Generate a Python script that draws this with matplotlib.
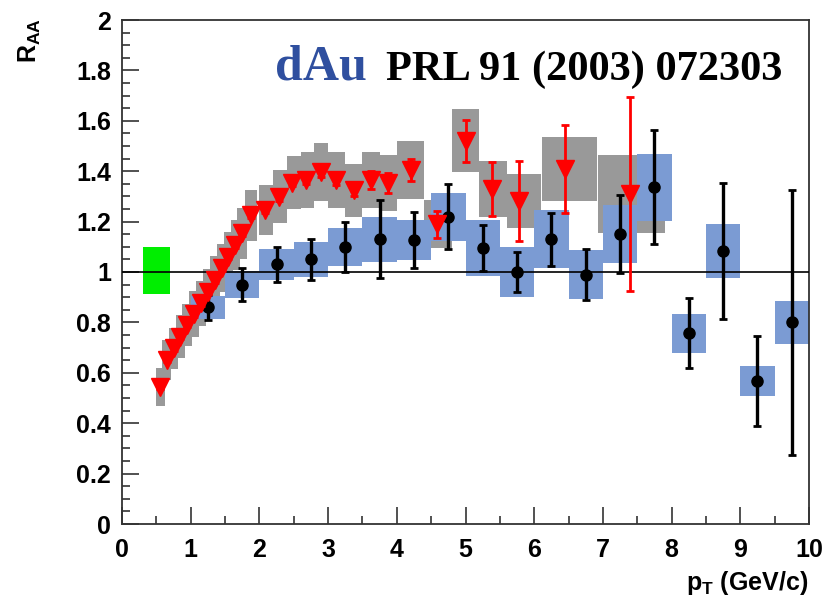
import matplotlib
matplotlib.use('Agg')
import matplotlib.pyplot as plt
from matplotlib.ticker import MultipleLocator, FuncFormatter

# dAu charged hadrons (red triangles, grey systematic boxes)
red_x = [0.55, 0.65, 0.75, 0.85, 0.95, 1.05, 1.15, 1.25, 1.35, 1.45, 1.55, 1.65, 1.75,
         1.88, 2.08, 2.28, 2.48, 2.68, 2.9, 3.12, 3.37, 3.62, 3.87, 4.2,
         4.58, 5.0, 5.38, 5.78, 6.45, 7.4]
red_y = [0.545, 0.651, 0.697, 0.743, 0.79, 0.833, 0.876, 0.922, 0.968, 1.015, 1.06, 1.107, 1.153,
         1.225, 1.245, 1.298, 1.355, 1.365, 1.397, 1.365, 1.325, 1.365, 1.353, 1.405,
         1.19, 1.52, 1.33, 1.282, 1.409, 1.31]
red_stat = [0.01, 0.01, 0.01, 0.01, 0.01, 0.01, 0.01, 0.01, 0.01, 0.01, 0.01, 0.01, 0.01,
            0.01, 0.01, 0.015, 0.015, 0.015, 0.02, 0.02, 0.025, 0.035, 0.04, 0.045,
            0.054, 0.085, 0.106, 0.158, 0.174, 0.385]
red_sys = [0.075, 0.08, 0.08, 0.085, 0.085, 0.09, 0.09, 0.09, 0.095, 0.095, 0.1, 0.1, 0.1,
           0.1, 0.1, 0.105, 0.105, 0.11, 0.115, 0.11, 0.105, 0.11, 0.11, 0.115,
           0.095, 0.125, 0.11, 0.107, 0.127, 0.154]
red_binw = [0.14, 0.14, 0.14, 0.14, 0.14, 0.14, 0.14, 0.14, 0.14, 0.14, 0.14, 0.14, 0.14,
            0.18, 0.2, 0.2, 0.2, 0.2, 0.2, 0.25, 0.25, 0.25, 0.25, 0.38,
            0.4, 0.4, 0.4, 0.5, 0.8, 0.97]
red_binc = [0.56, 0.65, 0.75, 0.85, 0.95, 1.05, 1.15, 1.25, 1.35, 1.45, 1.55, 1.65, 1.75,
            1.875, 2.1, 2.3, 2.5, 2.7, 2.9, 3.125, 3.375, 3.625, 3.875, 4.2,
            4.6, 5.0, 5.4, 5.85, 6.52, 7.415]

# dAu pi0 (black points, blue systematic boxes)
blk_x = [1.25, 1.75, 2.25, 2.75, 3.25, 3.75, 4.25, 4.75, 5.25, 5.75, 6.25, 6.75,
         7.25, 7.75, 8.25, 8.75, 9.25, 9.75]
blk_y = [0.86, 0.95, 1.03, 1.05, 1.10, 1.13, 1.127, 1.22, 1.095, 1.0, 1.13, 0.99,
         1.15, 1.337, 0.757, 1.083, 0.567, 0.80]
blk_stat = [0.05, 0.065, 0.07, 0.08, 0.10, 0.155, 0.11, 0.128, 0.09, 0.081, 0.105, 0.1025,
            0.155, 0.225, 0.139, 0.27, 0.178, 0.526]
blk_sys = [0.045, 0.055, 0.062, 0.068, 0.075, 0.09, 0.08, 0.095, 0.112, 0.10, 0.115, 0.098,
           0.115, 0.133, 0.077, 0.107, 0.06, 0.085]

# normalisation uncertainty box
norm_x, norm_w = 0.505, 0.39
norm_lo, norm_hi = 0.913, 1.10

plt.rcParams['font.family'] = ['Liberation Sans', 'DejaVu Sans']
plt.rcParams['mathtext.fontset'] = 'custom'
plt.rcParams['mathtext.rm'] = 'Liberation Sans:bold'
plt.rcParams['mathtext.bf'] = 'Liberation Sans:bold'

fig = plt.figure(figsize=(8.4, 6.02), dpi=100)
ax = fig.add_axes([122/840, 78/602, 687/840, 504/602])

grey = '#999999'
blue = '#7b9bd3'

ax.bar(red_binc, [2*s for s in red_sys], bottom=[y - s for y, s in zip(red_y, red_sys)],
       width=red_binw, color=grey, linewidth=0, zorder=1)
ax.bar(blk_x, [2*s for s in blk_sys], bottom=[y - s for y, s in zip(blk_y, blk_sys)],
       width=0.5, color=blue, linewidth=0, zorder=2)
ax.bar(norm_x, norm_hi - norm_lo, bottom=norm_lo, width=norm_w, color='#00ee00',
       linewidth=0, zorder=2)
ax.axhline(1, color='k', lw=1.2, zorder=3)

ax.errorbar(blk_x, blk_y, yerr=blk_stat, fmt='o', color='k', ms=8, elinewidth=2.4,
            capsize=3, capthick=2, zorder=4)
ax.errorbar(red_x, red_y, yerr=red_stat, fmt='v', color='red', ms=13, elinewidth=2,
            capsize=3, capthick=2, zorder=5)

ax.set_xlim(0, 10)
ax.set_ylim(0, 2)
ax.xaxis.set_major_locator(MultipleLocator(1))
ax.xaxis.set_minor_locator(MultipleLocator(0.5))
ax.yaxis.set_major_locator(MultipleLocator(0.2))
ax.yaxis.set_minor_locator(MultipleLocator(0.05))
fmt = FuncFormatter(lambda v, p: '%g' % round(v, 2))
ax.xaxis.set_major_formatter(fmt)
ax.yaxis.set_major_formatter(fmt)
ax.tick_params(which='both', direction='in', top=False, right=False, width=1.2, color='#333333')
ax.tick_params(which='major', length=12)
ax.tick_params(which='minor', length=6)
ax.tick_params(axis='x', pad=10)
ax.tick_params(axis='y', pad=8)
for lab in ax.get_xticklabels() + ax.get_yticklabels():
    lab.set_fontsize(18)
    lab.set_fontweight('bold')
for s in ax.spines.values():
    s.set_linewidth(1.3)
    s.set_color('#333333')

fig.text(30/840, 1 - 40/602, r'$\mathrm{R}_{\mathrm{AA}}$', rotation=90, fontsize=18,
         ha='center', va='center')
fig.text(808/840, 1 - 583/602, r'$\mathrm{p}_{\mathrm{T}}$ (GeV/c)', fontsize=18,
         fontweight='bold', ha='right', va='center')

fig.text(275/840, 1 - 80/602, 'dAu', fontsize=36, fontweight='bold', color='#2f4f9f',
         family='Liberation Serif', ha='left', va='baseline')
fig.text(386/840, 1 - 80/602, 'PRL 91 (2003) 072303', fontsize=30.5, fontweight='bold',
         color='black', family='Liberation Serif', ha='left', va='baseline')

fig.savefig('out.png', dpi=100)
